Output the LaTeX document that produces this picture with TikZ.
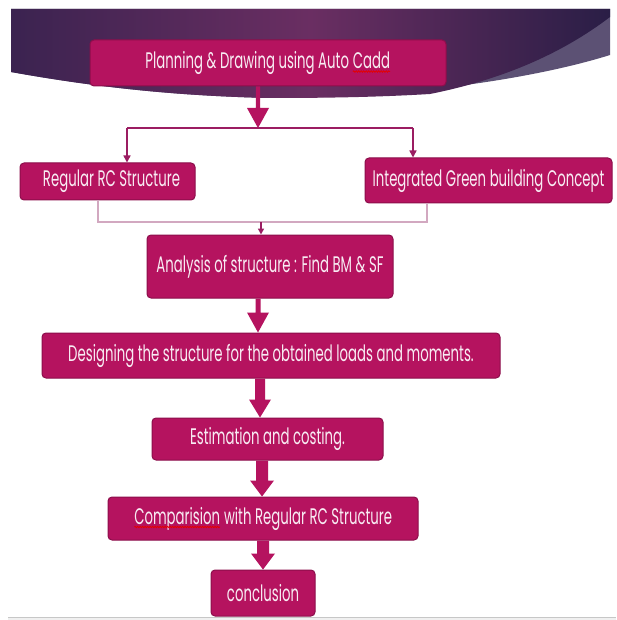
\documentclass[tikz,border=0pt]{standalone}
\usepackage{fontspec}
\setmainfont{Poppins}[FakeStretch=0.59]
\usetikzlibrary{arrows.meta,decorations.pathmorphing,calc}
\definecolor{boxc}{HTML}{B5135F}
\definecolor{boxd}{HTML}{8C0E4B}
\definecolor{txt}{HTML}{F8ECF3}
\definecolor{bandL}{HTML}{3B2350}
\definecolor{bandM}{HTML}{6A2E62}
\definecolor{bandR}{HTML}{2A1E46}
\definecolor{swoosh}{HTML}{5C5174}
\definecolor{thinc}{HTML}{9B1D62}
\definecolor{pale}{HTML}{D2A8C0}
\newcommand{\spell}[1]{\tikz[baseline=(sw.base)]{\node[inner sep=0pt,outer sep=0pt,minimum width=0pt,minimum height=0pt,draw=none,fill=none,rounded corners=0pt](sw){#1};\draw[red!90!black,line width=0.8pt,rounded corners=0pt,decorate,decoration={snake,amplitude=0.7pt,segment length=2.5pt}]([yshift=-3pt]sw.base west)--([yshift=-3pt]sw.base east);}}
\newcommand{\fatarrow}[5]{\fill[boxc] ($(#1)+(-#3,0)$) -- ($(#2)+(-#3,-#5)$) -- ($(#2)+(-#4,-#5)$) -- (#2) -- ($(#2)+(#4,-#5)$) -- ($(#2)+(#3,-#5)$) -- ($(#1)+(#3,0)$) -- cycle;}
\tikzset{
  stepbox/.style={rectangle, rounded corners=4pt, fill=boxc, draw=boxd, line width=1pt,
    text=txt, font=\fontsize{22.5}{24}\selectfont, inner sep=0pt, anchor=center},
  thinarrow/.style={draw=thinc, line width=1.5pt, -{Triangle[width=7pt,length=7pt]}},
  paleline/.style={draw=pale, line width=1.2pt},
}
\begin{document}
\begin{tikzpicture}[x=1pt,y=-1pt]
\useasboundingbox (0,0) rectangle (616,620);
\fill[white] (0,0) rectangle (616,620);
% banner
\fill[swoosh] (11,9) -- (610,9) -- (610,55) .. controls (530,80) and (400,98) .. (270,98) .. controls (180,96) and (100,88) .. (11,72) -- cycle;
\shade[left color=bandL, right color=bandR, middle color=bandM]
  (11,9) -- (610,9) -- (610,17) .. controls (560,55) and (500,80) .. (430,94)
  .. controls (380,97) and (330,98) .. (270,98) .. controls (180,96) and (100,88) .. (11,72) -- cycle;
% bottom strip
\fill[black!6] (8,617) rectangle (616,620);
\draw[black!22, line width=1pt] (8,617) -- (616,617);

% boxes
\node[stepbox, minimum width=356pt, minimum height=46pt] (b1) at (268,63) {Planning \& Drawing using Auto \spell{Cadd}};
\node[stepbox, minimum width=175pt, minimum height=37pt] (b2) at (107.5,181.5) {\hspace*{8pt}Regular RC Structure};
\node[stepbox, minimum width=247pt, minimum height=45pt] (b3) at (488.5,180.5) {Integrated Green building Concept};
\node[stepbox, minimum width=246pt, minimum height=63pt] (b4) at (270,266.5) {Analysis of structure : Find BM \& SF};
\node[stepbox, minimum width=458pt, minimum height=45pt] (b5) at (271,355.5) {Designing the structure for the obtained loads and moments.};
\node[stepbox, minimum width=231pt, minimum height=42pt] (b6) at (267.5,439) {Estimation and costing.};
\node[stepbox, minimum width=310pt, minimum height=43pt] (b7) at (263,518.5) {\spell{Comparision} with Regular RC Structure};
\node[stepbox, minimum width=104pt, minimum height=46pt] (b8) at (263,593) {conclusion};

% branch from b1
\coordinate (brL) at (127,128);
\coordinate (brR) at (413,128);
\coordinate (ax1) at (258,128);
\draw[thinc, line width=1.5pt] (brL) -- (brR);
\draw[thinarrow] (brL) -- (brL |- b2.north);
\draw[thinarrow] (brR) -- (brR |- b3.north);
\fatarrow{b1.south -| ax1}{ax1}{2.2}{11}{20}

% join to b4
\coordinate (jL) at (98,222);
\coordinate (jR) at (427,222);
\coordinate (jM) at (261,222);
\draw[paleline] (jL |- b2.south) -- (jL) -- (jR) -- (jR |- b3.south);
\draw[thinc, line width=1.5pt, -{Triangle[width=6pt,length=6pt]}] (jM) -- (jM |- b4.north);

% fat arrows
\coordinate (ax4) at (258,0);
\coordinate (ax5) at (260,0);
\coordinate (ax6) at (262,0);
\coordinate (ax7) at (263,0);
\fatarrow{b4.south -| ax4}{b5.north -| ax4}{2.5}{11}{20}
\fatarrow{b5.south -| ax5}{b6.north -| ax5}{5}{11}{18}
\fatarrow{b6.south -| ax6}{b7.north -| ax6}{6}{12}{16}
\fatarrow{b7.south -| ax7}{b8.north -| ax7}{6}{12}{16}
\end{tikzpicture}
\end{document}
